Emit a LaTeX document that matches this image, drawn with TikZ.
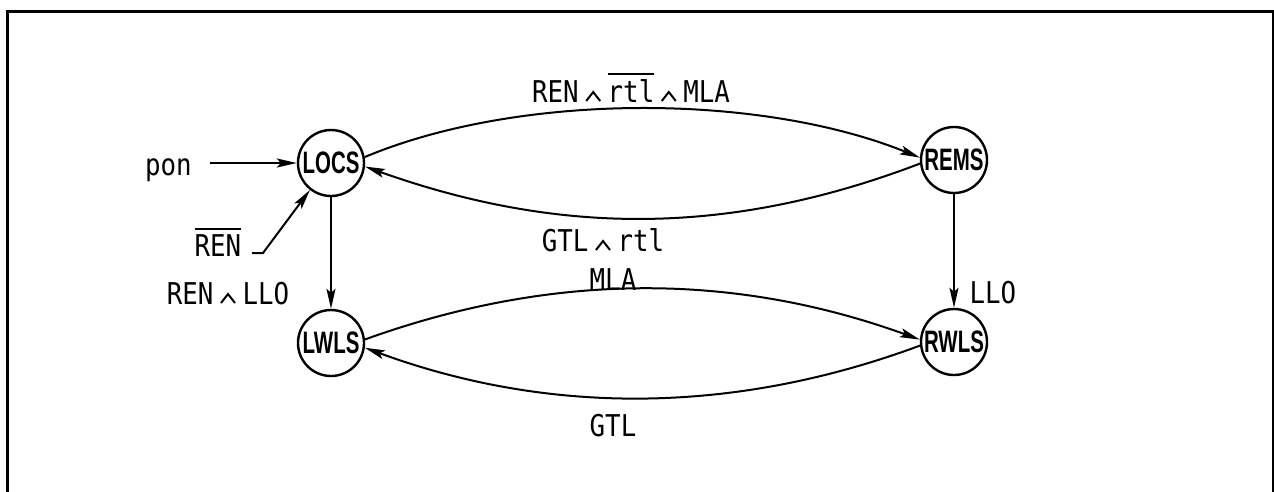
\documentclass[tikz,border=0pt]{standalone}
\usepackage{fontspec}
\usetikzlibrary{arrows.meta}

% label lettering: narrow monospaced sans; state names: heavy condensed sans
\newfontfamily\lblfont[FakeStretch=0.86]{DejaVu Sans Mono}
\newfontfamily\statefont[FakeStretch=0.66]{Liberation Sans Bold}

% small wedge sitting on the baseline
\newsavebox\wedgebox
% text with a bar over it
\newcommand\barred[1]{\sbox0{#1}\rlap{\rule[\dimexpr\ht0+4pt\relax]{\wd0}{2pt}}#1}
\newcommand\wdg{\hspace{6.5pt}\usebox\wedgebox\hspace{6.5pt}}

\begin{document}
\sbox\wedgebox{\begin{pgfpicture}%
  \pgfsetlinewidth{2pt}%
  \pgfpathmoveto{\pgfpoint{0pt}{0pt}}%
  \pgfpathlineto{\pgfpoint{7pt}{9pt}}%
  \pgfpathlineto{\pgfpoint{14pt}{0pt}}%
  \pgfusepath{stroke}%
\end{pgfpicture}}%
\begin{tikzpicture}[x=1pt,y=-1pt,
  state/.style={circle, draw, line width=2.4pt, minimum size=66pt, inner sep=0pt,
    font=\statefont\fontsize{31pt}{32pt}\selectfont},
  lbl/.style={inner sep=0pt, outer sep=0pt, font=\lblfont\fontsize{30pt}{32pt}\selectfont},
  trans/.style={line width=2pt, -{Stealth[length=20pt,width=9pt,inset=4pt]}},
  frame/.style={line width=3pt}]
\useasboundingbox (0,0) rectangle (1274,491);

% open frame
\draw[frame] (7,495) -- (7,11) -- (1273,11) -- (1273,495);

% states
\node[state] (LOCS) at (331,163) {LOCS};
\node[state] (REMS) at (954,160) {REMS};
\node[state] (LWLS) at (331,343) {LWLS};
\node[state] (RWLS) at (954,342) {RWLS};

% inputs into LOCS
\node[lbl, anchor=base west] (pon) at (145,175) {pon};
\coordinate (ponstart) at (210,163);
\draw[trans] (ponstart) -- (LOCS);

\node[lbl, anchor=base west] (renbar) at (194.5,256) {\barred{REN}};
\coordinate (rentick) at (252,253);
\draw[trans] (rentick) -- ++(11,0) -- (LOCS.232);

% LOCS <-> REMS
\draw[trans] (LOCS.10) .. controls (520,92) and (760,93) .. (REMS.176);
\draw[trans] (REMS.186) .. controls (730,236) and (560,236) .. (LOCS.-6);
\node[lbl, anchor=base] (lrtop) at (631,102) {REN\wdg\barred{rtl}\wdg MLA};
\node[lbl, anchor=base] (lrbot) at (603,251) {GTL\wdg rtl};

% downward transitions
\draw[trans] (LOCS) -- (LWLS);
\node[lbl, anchor=base] (locsdown) at (228,304) {REN\wdg LLO};
\draw[trans] (REMS) -- (RWLS);
\node[lbl, anchor=base west] (remsdown) at (969.5,303) {LLO};

% LWLS <-> RWLS
\draw[trans] (LWLS.6) .. controls (552,272) and (733,272) .. (RWLS.176);
\draw[trans] (RWLS.186) .. controls (733,415) and (548,415) .. (LWLS.-8);
\node[lbl, anchor=base] (lwtop) at (613,290) {MLA};
\node[lbl, anchor=base] (lwbot) at (613,436) {GTL};
\end{tikzpicture}
\end{document}
